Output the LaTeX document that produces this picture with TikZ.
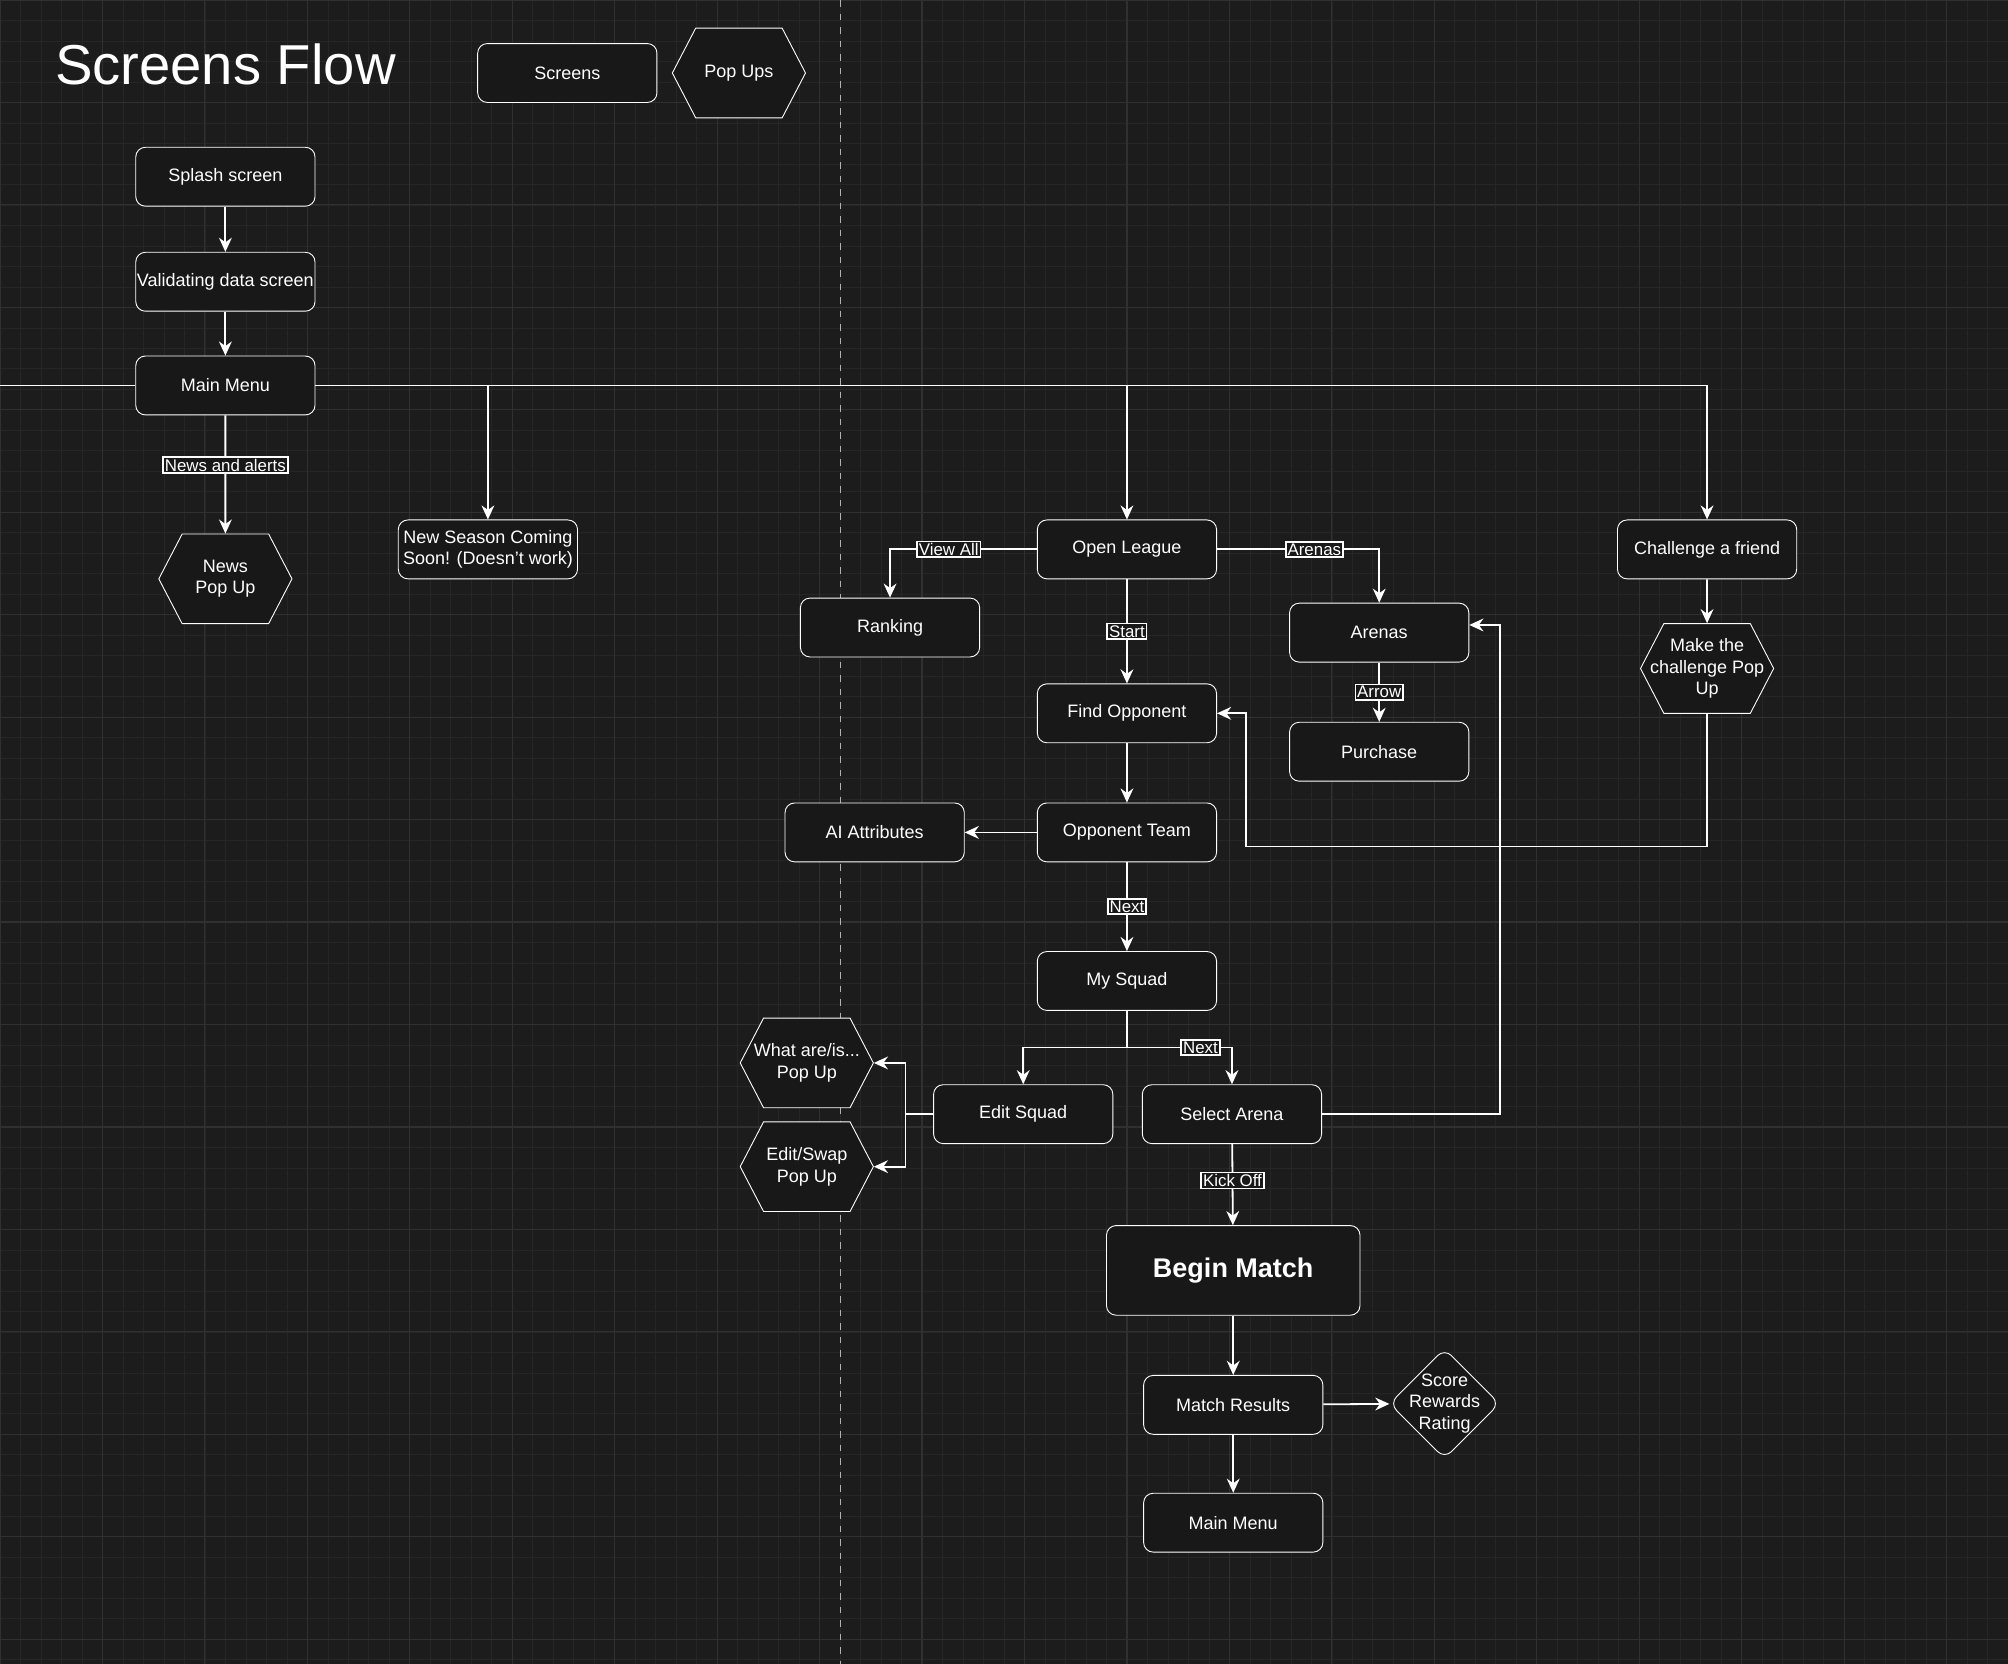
\documentclass[tikz,border=0pt]{standalone}
\usepackage{fontspec}
\setmainfont{Liberation Sans}
\usetikzlibrary{shapes.geometric,shapes.symbols,arrows.meta}
\definecolor{bgdark}{HTML}{1C1C1C}
\definecolor{boxdark}{HTML}{181818}
\definecolor{gridminor}{HTML}{262626}
\definecolor{gridmajor}{HTML}{303030}
\tikzset{
  screen/.style={draw=white, fill=boxdark, rounded corners=1.5mm, text=white!90,
    minimum width=2.8cm, minimum height=0.92cm, align=center, inner xsep=0pt, inner ysep=1pt,
    font=\fontsize{8}{9.5}\selectfont},
  popup/.style={draw=white, fill=boxdark, signal, signal to=east and west,
    signal pointer angle=125, text=white!90, minimum width=2.08cm, minimum height=1.4cm,
    align=center, inner xsep=-7pt, inner ysep=1pt, font=\fontsize{8}{9.5}\selectfont},
  flow/.style={draw=white, thick, -{Stealth[length=2.2mm,width=2mm]}},
  plain/.style={draw=white, thick},
  elabel/.style={fill=boxdark, draw=white!60, inner sep=0.8pt, text=white!80,
    font=\fontsize{7.5}{8}\selectfont}
}
\begin{document}
\begin{tikzpicture}[x=0.02cm, y=-0.02cm]
	\useasboundingbox (0,0) rectangle (1568,1299);
	\fill[bgdark] (0,0) rectangle (1568,1299);
	
	% grid
	\foreach \x in {0,16,...,1568}
		\draw[gridminor, line width=0.3pt] (\x,0) -- (\x,1299);
	\foreach \y in {0,16,...,1296}
		\draw[gridminor, line width=0.3pt] (0,\y) -- (1568,\y);
	\foreach \x in {0,80,...,1568}
		\draw[gridmajor, line width=0.5pt] (\x,0) -- (\x,1299);
	\foreach \y in {0,80,...,1296}
		\draw[gridmajor, line width=0.5pt] (0,\y) -- (1568,\y);
	\draw[gray!60, dashed, line width=0.4pt] (656,0) -- (656,1299);
	
	% legend
	\node[text=white, font=\fontsize{25}{28}\selectfont] (title) at (176,50) {Screens Flow};
	\node[screen] (legscreen) at (443,57) {Screens};
	\node[popup] (legpopup) at (577,57) {Pop Ups};
	
	% screens
	\node[screen] (splash) at (176,138) {Splash screen};
	\node[screen] (validating) at (176,220) {Validating data screen};
	\node[screen] (mainmenu) at (176,301) {Main Menu};
	\node[popup] (newspopup) at (176,452) {News\\Pop Up};
	\node[screen] (newseason) at (381,429) {New Season Coming\\Soon! (Doesn't work)};
	\node[screen] (openleague) at (880,429) {Open League};
	\node[screen] (ranking) at (695,490) {Ranking};
	\node[screen] (arenas) at (1077,494) {Arenas};
	\node[screen] (purchase) at (1077,587) {Purchase};
	\node[screen] (challenge) at (1333,429) {Challenge a friend};
	\node[popup] (challengepopup) at (1333,522) {Make the\\challenge Pop\\Up};
	\node[screen] (findopp) at (880,557) {Find Opponent};
	\node[screen] (oppteam) at (880,650) {Opponent Team};
	\node[screen] (aiattr) at (683,650) {AI Attributes};
	\node[screen] (mysquad) at (880,766) {My Squad};
	\node[screen] (editsquad) at (799,870) {Edit Squad};
	\node[screen] (selectarena) at (962,870) {Select Arena};
	\node[popup] (whatpopup) at (630,830) {What are/is...\\Pop Up};
	\node[popup] (swappopup) at (630,911) {Edit/Swap\\Pop Up};
	\node[screen, minimum width=3.96cm, minimum height=1.4cm,
		font=\fontsize{12}{14}\selectfont\bfseries] (beginmatch) at (963,992) {Begin Match};
	\node[screen] (results) at (963,1097) {Match Results};
	\node[draw=white, fill=boxdark, diamond, rounded corners=1.5mm, text=white!90,
		minimum width=1.72cm, minimum height=1.72cm, inner sep=-5pt, align=center,
		font=\fontsize{8}{9.5}\selectfont] (score) at (1128,1096) {Score\\Rewards\\Rating};
	\node[screen] (mainmenuend) at (963,1189) {Main Menu};
	
	% coordinates
	\coordinate (leftend) at (0,301);
	\coordinate (busend) at (1333,301);
	
	% connectors
	\draw[flow] (splash) -- (validating);
	\draw[flow] (validating) -- (mainmenu);
	\draw[flow] (mainmenu) -- node[elabel, pos=0.42] {News and alerts} (newspopup);
	\draw[plain] (mainmenu.west) -- (leftend);
	\draw[plain] (mainmenu.east) -- (busend);
	\draw[flow] (381,301) -- (newseason);
	\draw[flow] (880,301) -- (openleague);
	\draw[flow] (busend) -- (challenge);
	\draw[flow] (openleague.west) -| node[elabel, pos=0.3] {View All} (ranking.north);
	\draw[flow] (openleague.east) -| node[elabel, pos=0.3] {Arenas} (arenas.north);
	\draw[flow] (openleague) -- node[elabel] {Start} (findopp);
	\draw[flow] (arenas) -- node[elabel] {Arrow} (purchase);
	\draw[flow] (findopp) -- (oppteam);
	\draw[flow] (oppteam) -- (aiattr);
	\draw[flow] (oppteam) -- node[elabel] {Next} (mysquad);
	\draw[flow] (mysquad.south) |- (799,818) -- (editsquad.north);
	\draw[flow] (mysquad.south) |- (962,818) node[elabel, pos=0.85] {Next} -- (selectarena.north);
	\draw[flow] (editsquad.west) -- (707,870) |- (whatpopup.east);
	\draw[flow] (707,870) |- (swappopup.east);
	\draw[flow] (selectarena.east) -| (1171,488) -- (arenas.east |- 0,488);
	\draw[flow] (challenge) -- (challengepopup);
	\draw[flow] (challengepopup.south) |- (973,661) |- (findopp.east);
	\draw[flow] (selectarena) -- node[elabel, pos=0.45] {Kick Off} (beginmatch);
	\draw[flow] (beginmatch) -- (results);
	\draw[flow] (results) -- (score);
	\draw[flow] (results) -- (mainmenuend);
\end{tikzpicture}
\end{document}
